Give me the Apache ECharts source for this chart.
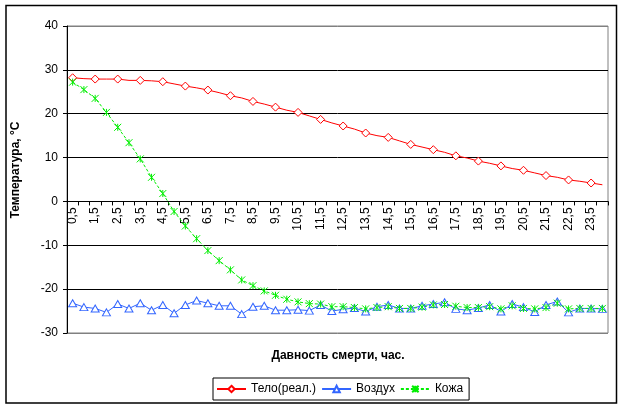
<!DOCTYPE html>
<html>
<head>
<meta charset="utf-8">
<script src="https://cdn.jsdelivr.net/npm/echarts@6.0.0/dist/echarts.min.js"></script>
<style>
    html, body {margin: 0; padding: 0; background: #fff;}
    #chart {width: 624px; height: 410px;}
</style>
</head>
<body>
<div id="chart"></div>
<script>
// часы после смерти (подписи категорий)
var hours = ['0,5', '1', '1,5', '2', '2,5', '3', '3,5', '4', '4,5', '5', '5,5', '6',
    '6,5', '7', '7,5', '8', '8,5', '9', '9,5', '10', '10,5', '11', '11,5', '12',
    '12,5', '13', '13,5', '14', '14,5', '15', '15,5', '16', '16,5', '17', '17,5', '18',
    '18,5', '19', '19,5', '20', '20,5', '21', '21,5', '22', '22,5', '23', '23,5', '24'];

var teloValues = [28.2, 28.0, 27.9, 27.9, 27.9, 27.6, 27.6, 27.5, 27.3, 26.8, 26.3, 25.9,
    25.4, 24.8, 24.1, 23.6, 22.8, 22.2, 21.5, 20.8, 20.3, 19.5, 18.7, 17.9,
    17.2, 16.5, 15.6, 15.0, 14.6, 13.8, 13.0, 12.4, 11.8, 11.2, 10.4, 9.9,
    9.2, 8.7, 8.1, 7.5, 7.1, 6.5, 5.9, 5.5, 4.9, 4.6, 4.2, 3.8];

var vozduhValues = [-23.2, -24.1, -24.4, -25.3, -23.4, -24.4, -23.2, -24.8, -23.6, -25.5, -23.6, -22.6,
    -23.2, -23.8, -23.8, -25.7, -24.0, -23.8, -24.8, -24.8, -24.7, -24.9, -23.6, -25.0,
    -24.6, -24.3, -25.1, -24.0, -23.6, -24.4, -24.4, -23.8, -23.4, -23.0, -24.5, -24.8,
    -24.3, -23.6, -25.1, -23.4, -24.1, -25.2, -23.6, -22.8, -25.3, -24.4, -24.4, -24.5];

var kozhaValues = [27.2, 25.5, 23.5, 20.3, 16.9, 13.4, 9.7, 5.5, 1.8, -2.3, -5.6, -8.5,
    -11.2, -13.5, -15.6, -17.9, -19.2, -20.4, -21.4, -22.3, -22.9, -23.3, -23.4, -24.0,
    -24.0, -24.2, -24.5, -24.2, -24.0, -24.4, -24.4, -24.1, -23.6, -23.5, -23.9, -24.2,
    -24.2, -24.0, -24.5, -23.8, -24.4, -24.5, -24.2, -23.2, -24.5, -24.4, -24.4, -24.4];

var seriesNames = ['Тело(реал.)', 'Воздух', 'Кожа'];

var font = 'Liberation Sans, Arial, sans-serif';
var starPath = 'path://M0,0L8,8M8,0L0,8M4,0L4,8';

var gridTop = 26, gridBottom = 77, yMin = -30, yMax = 40;
// сдвиг оси X вверх до нуля
var plotH = 410 - gridTop - gridBottom;
var zeroOffset = -plotH * (0 - yMin) / (yMax - yMin);

var chart = echarts.init(document.getElementById('chart'), null, {renderer: 'canvas'});

var option = {
    animation: false,
    backgroundColor: '#fff',
    grid: {
        left: 67,
        right: 16,
        top: gridTop,
        bottom: gridBottom,
        show: true,
        borderColor: '#808080',
        borderWidth: 1,
        backgroundColor: '#fff'
    },
    legend: {
        data: seriesNames,
        left: 213,
        top: 378,
        orient: 'horizontal',
        borderColor: '#000',
        borderWidth: 1,
        borderRadius: 0,
        padding: [5, 6, 5, 3],
        itemGap: 5,
        itemWidth: 29,
        itemHeight: 8,
        textStyle: {fontFamily: font, fontSize: 12, color: '#000'}
    },
    xAxis: {
        type: 'category',
        data: hours,
        boundaryGap: true,
        position: 'bottom',
        offset: zeroOffset,
        axisLine: {onZero: false, lineStyle: {color: '#000', width: 1}},
        axisTick: {show: true, interval: 0, length: 4, inside: false, lineStyle: {color: '#000'}},
        axisLabel: {
            interval: 1,
            rotate: 90,
            margin: 6,
            fontFamily: font,
            fontSize: 12,
            color: '#000'
        },
        splitLine: {show: false}
    },
    yAxis: {
        type: 'value',
        min: yMin,
        max: yMax,
        interval: 10,
        axisLine: {show: true, lineStyle: {color: '#000', width: 1}},
        axisTick: {show: true, length: 4, inside: false, lineStyle: {color: '#000'}},
        axisLabel: {margin: 9, fontFamily: font, fontSize: 12, color: '#000'},
        splitLine: {
            show: true,
            lineStyle: {
                color: ['#808080', '#000', '#000', '#000', '#000', '#000', '#000', '#808080'],
                width: 1
            }
        }
    },
    graphic: [
        {
            type: 'rect',
            shape: {x: 6, y: 5.5, width: 610.5, height: 397.5},
            style: {fill: 'none', stroke: '#000', lineWidth: 1.5},
            silent: true
        },
        {
            type: 'text',
            x: 16,
            y: 170,
            rotation: Math.PI / 2,
            style: {
                text: 'Температура, °С',
                font: 'bold 12px ' + font,
                fill: '#000',
                align: 'center',
                verticalAlign: 'middle'
            }
        },
        {
            type: 'text',
            x: 338,
            y: 356,
            style: {
                text: 'Давность смерти, час.',
                font: 'bold 12px ' + font,
                fill: '#000',
                align: 'center',
                verticalAlign: 'middle'
            }
        }
    ],
    series: [
        {
            name: seriesNames[0],
            type: 'line',
            data: teloValues,
            symbol: 'diamond',
            symbolSize: 8,
            lineStyle: {color: '#ff0000', width: 1},
            itemStyle: {color: '#fff', borderColor: '#ff0000', borderWidth: 1}
        },
        {
            name: seriesNames[1],
            type: 'line',
            data: vozduhValues,
            symbol: 'triangle',
            symbolSize: [8, 7],
            lineStyle: {color: '#3366ff', width: 1},
            itemStyle: {color: '#fff', borderColor: '#3366ff', borderWidth: 1}
        },
        {
            name: seriesNames[2],
            type: 'line',
            data: kozhaValues,
            symbol: starPath,
            symbolSize: 7,
            lineStyle: {color: '#00ee00', width: 1, type: [3, 2]},
            itemStyle: {color: '#00ee00', borderColor: '#00ee00', borderWidth: 1}
        }
    ]
};

chart.setOption(option);
</script>
</body>
</html>
